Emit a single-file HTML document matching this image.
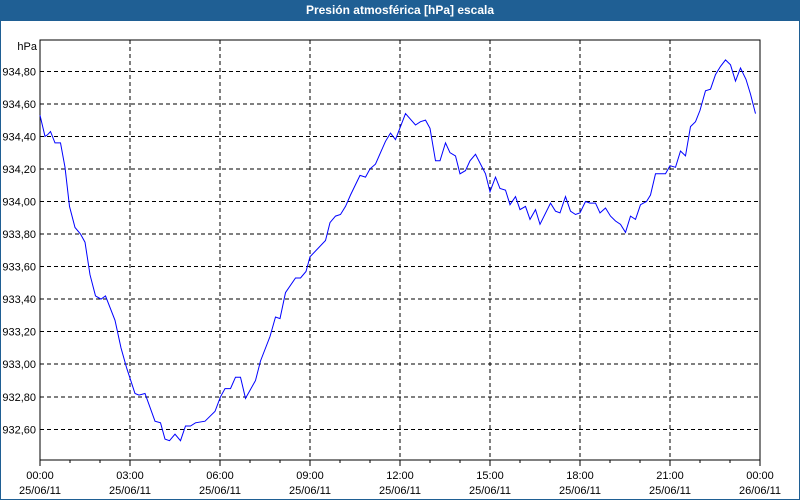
<!DOCTYPE html>
<html><head><meta charset="utf-8"><style>
body{margin:0;width:800px;height:500px;overflow:hidden;background:#fff;font-family:"Liberation Sans",sans-serif}
#frame{position:absolute;left:0;top:0;width:798px;height:498px;border:1px solid #1f5f94;background:#fff}
#title{position:absolute;left:0;top:0;width:800px;height:21px;background:#1f5f94;color:#fff;font-weight:bold;font-size:12px;line-height:21px;text-align:center}
</style></head><body>
<div id="frame"></div>
<div id="title">Presión atmosférica [hPa] escala</div>
<svg id="chart" width="800" height="500" style="position:absolute;left:0;top:0"></svg>
<script>
const minutes=[0,10,15,21,30,41,50,59,70,81,90,100,111,122,131,150,162,173,190,198,210,230,241,250,259,270,281,291,301,311,330,350,361,370,381,391,401,411,431,441,460,471,480,491,511,521,532,540,571,580,591,601,611,621,640,651,660,671,691,701,711,731,751,761,771,780,791,800,811,820,831,840,851,860,871,891,900,911,920,931,940,951,960,971,980,991,1000,1021,1031,1040,1051,1061,1071,1080,1091,1100,1111,1120,1131,1141,1151,1161,1171,1181,1191,1201,1213,1221,1231,1251,1260,1271,1281,1291,1301,1311,1320,1331,1341,1351,1361,1371,1381,1391,1401,1412,1421,1431];
const pressure=[934.53,934.40,934.41,934.43,934.36,934.36,934.21,933.97,933.84,933.80,933.75,933.55,933.42,933.40,933.42,933.27,933.10,932.98,932.82,932.81,932.82,932.65,932.64,932.54,932.53,932.57,932.53,932.62,932.62,932.64,932.65,932.71,932.80,932.85,932.85,932.92,932.92,932.79,932.90,933.02,933.17,933.29,933.28,933.44,933.53,933.53,933.57,933.66,933.76,933.87,933.91,933.92,933.97,934.04,934.16,934.15,934.20,934.23,934.37,934.42,934.38,934.54,934.47,934.49,934.50,934.45,934.25,934.25,934.36,934.30,934.28,934.17,934.19,934.25,934.29,934.17,934.06,934.15,934.08,934.07,933.98,934.03,933.95,933.97,933.89,933.95,933.86,933.99,933.94,933.93,934.03,933.94,933.92,933.93,934.00,933.99,933.99,933.93,933.96,933.91,933.88,933.86,933.81,933.91,933.89,933.98,934.00,934.04,934.17,934.17,934.22,934.21,934.31,934.28,934.46,934.49,934.56,934.68,934.69,934.78,934.83,934.87,934.84,934.74,934.82,934.75,934.66,934.54];
const yTicks=[932.60,932.80,933.00,933.20,933.40,933.60,933.80,934.00,934.20,934.40,934.60,934.80];
const xTickLabels=["00:00","03:00","06:00","09:00","12:00","15:00","18:00","21:00","00:00"];
const xDateLabels=["25/06/11","25/06/11","25/06/11","25/06/11","25/06/11","25/06/11","25/06/11","25/06/11","26/06/11"];
const L=40,R=760,T=40,B=460;
const xs=m=>L+(R-L)*m/1440;
const ys=v=>71.3+(934.8-v)*(429.3-71.3)/2.2;
const svg=document.getElementById('chart');
const NS='http://www.w3.org/2000/svg';
function mk(tag,a){const e=document.createElementNS(NS,tag);for(const k in a)e.setAttribute(k,a[k]);svg.appendChild(e);return e;}
// grid
yTicks.forEach(v=>{
 const g=mk('line',{x1:L,x2:R,y1:ys(v),y2:ys(v),stroke:'#000','stroke-dasharray':'4,3','shape-rendering':'crispEdges'});
 
 
 const t=mk('text',{x:36,y:ys(v)+4,'text-anchor':'end','font-size':'11',fill:'#000'});
 t.textContent=v.toFixed(2).replace('.',',');
 
 
});
xTickLabels.forEach((lab,i)=>{
 const x=xs(i*180);
 if(i>0&&i<8){const g=mk('line',{x1:x,x2:x,y1:T,y2:B,stroke:'#000','stroke-dasharray':'4,3','shape-rendering':'crispEdges'});
 
 }
 const t=mk('text',{x:x,y:479,'text-anchor':'middle','font-size':'11',fill:'#000'});
 t.textContent=lab;
 
 
 const d=mk('text',{x:x,y:494,'text-anchor':'middle','font-size':'11',fill:'#000'});
 d.textContent=xDateLabels[i];
 
 
});
for(let h=0;h<=24;h++){const x=xs(h*60);const tk=mk('line',{x1:x,x2:x,y1:B,y2:B+(h%3==0?6:3),stroke:'#000','shape-rendering':'crispEdges'});
 
 }
const fr=mk('rect',{x:L,y:T,width:R-L,height:B-T,fill:'none',stroke:'#000','shape-rendering':'crispEdges'});


const u=mk('text',{x:37,y:50,'text-anchor':'end','font-size':'11',fill:'#000'});
u.textContent='hPa';


const pts=minutes.map((m,i)=>xs(m).toFixed(1)+','+ys(pressure[i]).toFixed(1)).join(' ');
const pl=mk('polyline',{points:pts,fill:'none',stroke:'#0000ff','stroke-width':'1'});


</script>
</body></html>
